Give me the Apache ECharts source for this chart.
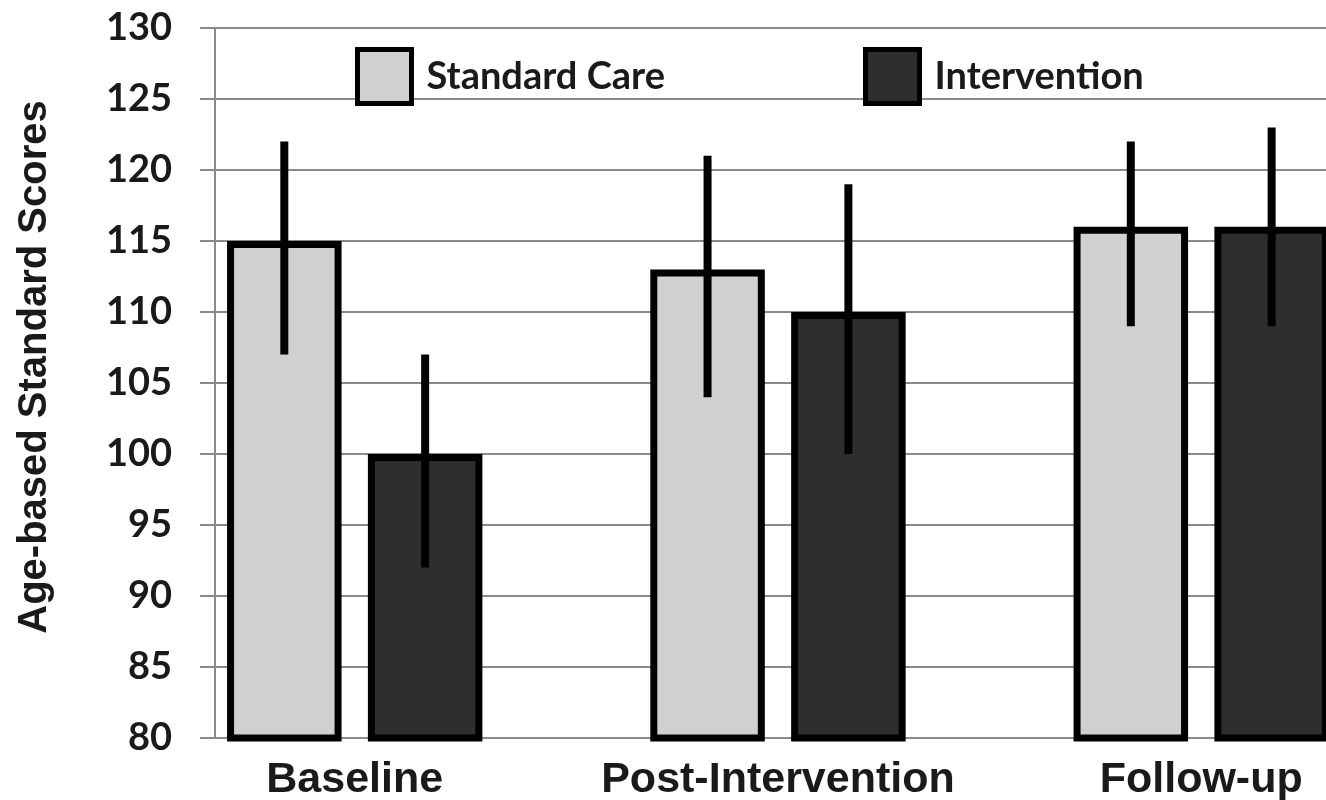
<!DOCTYPE html>
<html>
<head>
<meta charset="utf-8">
<script src="https://cdn.jsdelivr.net/npm/echarts@6/dist/echarts.min.js"></script>
<style>
html,body{margin:0;padding:0;background:#fff;}
#chart{width:1326px;height:800px;}
</style>
</head>
<body>
<div id="chart"></div>
<script>
// ---- data ----
const categories = ['Baseline', 'Post-Intervention', 'Follow-up'];
const standardCare = [115, 113, 116];
const intervention = [100, 110, 116];
const standardCareLow = [107, 104, 109];
const standardCareHigh = [122, 121, 122];
const interventionLow = [92, 100, 109];
const interventionHigh = [107, 119, 123];
const yTicks = { min: 80, max: 130, interval: 5 };

// ---- layout constants ----
const BAR_W = 114.5;
const BAR_GAP = 0.23;
const BORDER = 7;
const HALF_SPACING = BAR_W * (1 + BAR_GAP) / 2;

function errData(low, high) {
  return categories.map((c, i) => [i, low[i], high[i]]);
}
function errSeries(name, low, high, dir) {
  return {
    type: 'custom',
    name: name + ' err',
    xAxisIndex: 1, yAxisIndex: 1,
    z: 5,
    silent: true,
    encode: { x: 0, y: [1, 2] },
    data: errData(low, high),
    renderItem: function (params, api) {
      const lo = api.coord([api.value(0), api.value(1)]);
      const hi = api.coord([api.value(0), api.value(2)]);
      const x = lo[0] + dir * HALF_SPACING;
      return {
        type: 'line',
        shape: { x1: x, y1: lo[1], x2: x, y2: hi[1] },
        style: { stroke: '#000', lineWidth: 8 }
      };
    }
  };
}

const chart = echarts.init(document.getElementById('chart'), null, { renderer: 'canvas' });
const gridColor = '#8a8a8a';
const legendCommon = {
  icon: 'rect', itemWidth: 54, itemHeight: 54, top: 42,
  itemStyle: { borderColor: '#000', borderWidth: 5 },
  textStyle: { fontFamily: 'Lato', fontWeight: 'bold', fontSize: 38, color: '#1a1a1a', padding: [0, 0, 0, 10] }
};
chart.setOption({
  backgroundColor: '#fff',
  animation: false,
  legend: [
    Object.assign({ data: ['Standard Care'], left: 350 }, legendCommon),
    Object.assign({ data: ['Intervention'], left: 858 }, legendCommon)
  ],
  grid: [
    { left: 215, right: 0, top: 28, bottom: 62, outerBoundsMode: 'none', containLabel: false },
    { left: 143.1, width: 1269.75, top: 28, bottom: 62, outerBoundsMode: 'none', containLabel: false }
  ],
  xAxis: [
    { type: 'category', gridIndex: 0, data: categories, show: false },
    {
      type: 'category', gridIndex: 1, data: categories,
      axisLine: { show: false }, axisTick: { show: false },
      axisLabel: { interval: 0, fontFamily: 'Liberation Sans', fontWeight: 'bold', fontSize: 43, color: '#1a1a1a', margin: 21 }
    }
  ],
  yAxis: [
    {
      type: 'value', gridIndex: 0, min: yTicks.min, max: yTicks.max, interval: yTicks.interval,
      name: 'Age-based Standard Scores', nameLocation: 'middle', nameGap: 160,
      nameTextStyle: { fontFamily: 'Liberation Sans', fontWeight: 'bold', fontSize: 40, color: '#1a1a1a', padding: [0, 0, 0, 32] },
      axisLine: { show: true, lineStyle: { color: gridColor, width: 2 } },
      axisTick: { show: true, length: 15, lineStyle: { color: gridColor, width: 2 } },
      splitLine: { show: true, lineStyle: { color: gridColor, width: 2 } },
      axisLabel: { fontFamily: 'Lato', fontWeight: 'bold', fontSize: 38, color: '#1a1a1a', margin: 43 }
    },
    {
      type: 'value', gridIndex: 1, min: yTicks.min, max: yTicks.max, interval: yTicks.interval,
      show: false, splitLine: { show: false }
    }
  ],
  series: [
    {
      name: 'Standard Care', type: 'bar', xAxisIndex: 1, yAxisIndex: 1,
      data: standardCare, barWidth: BAR_W, barGap: (BAR_GAP * 100) + '%',
      itemStyle: { color: '#d0d0d0', borderColor: '#000', borderWidth: BORDER }
    },
    {
      name: 'Intervention', type: 'bar', xAxisIndex: 1, yAxisIndex: 1,
      data: intervention, barWidth: BAR_W, barGap: (BAR_GAP * 100) + '%',
      itemStyle: { color: '#2e2e2e', borderColor: '#000', borderWidth: BORDER }
    },
    errSeries('Standard Care', standardCareLow, standardCareHigh, -1),
    errSeries('Intervention', interventionLow, interventionHigh, 1)
  ]
});
</script>
</body>
</html>
